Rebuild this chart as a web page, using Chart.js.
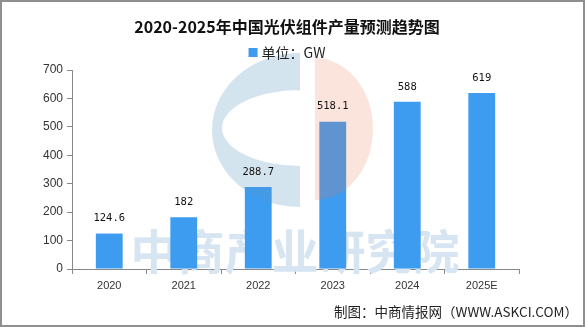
<!DOCTYPE html>
<html>
<head>
<meta charset="utf-8">
<script src="https://cdn.jsdelivr.net/npm/chart.js@4"></script>
<style>
  html, body { margin: 0; padding: 0; background: #fff; }
  #chart { display: block; }
</style>
</head>
<body>
<canvas id="chart" width="585" height="327"></canvas>
<script>
// Module output, GW
const years = ['2020', '2021', '2022', '2023', '2024', '2025E'];
const output = [124.6, 182, 288.7, 518.1, 588, 619];
const yTicks = [0, 100, 200, 300, 400, 500, 600, 700];

const titleText = '2020-2025年中国光伏组件产量预测趋势图';
const unitLabel = '单位：GW';
const sourceText = '制图：中商情报网（WWW.ASKCI.COM）';
const watermarkText = '中商产业研究院';

const barColor = '#3d9bf0';
const cjkFont = "'Noto Sans CJK SC', 'Noto Sans', sans-serif";

// Faint brand mark behind / over the plot
const watermarkPlugin = {
    id: 'watermark',
    beforeDatasetsDraw(chart) {
        const ctx = chart.ctx;
        ctx.save();
        ctx.fillStyle = '#d6e5f1';
        ctx.font = `bold 47px ${cjkFont}`;
        ctx.textAlign = 'center';
        ctx.textBaseline = 'middle';
        ctx.fillText(watermarkText, 295, 251);
        ctx.restore();
    },
    afterDatasetsDraw(chart) {
        const ctx = chart.ctx;
        ctx.save();

        // left "C" in pale blue
        ctx.fillStyle = 'rgba(90, 150, 195, 0.26)';
        ctx.beginPath();
        ctx.ellipse(300, 130, 88, 77, 0, Math.PI / 2, Math.PI * 1.5);
        ctx.closePath();
        ctx.moveTo(300, 128);
        ctx.ellipse(300, 128, 78, 38, 0, Math.PI * 1.5, Math.PI / 2, true);
        ctx.closePath();
        ctx.fill('evenodd');

        // right half in peach
        ctx.fillStyle = 'rgba(235, 120, 80, 0.2)';
        ctx.beginPath();
        ctx.ellipse(315, 129, 58, 71, 0, -Math.PI / 2, Math.PI / 2);
        ctx.closePath();
        ctx.fill();
        ctx.restore();

        // value labels above the bars
        const meta = chart.getDatasetMeta(0);
        ctx.save();
        ctx.fillStyle = '#111';
        ctx.font = "10.5px 'DejaVu Sans Mono', monospace";
        ctx.textAlign = 'center';
        ctx.textBaseline = 'middle';
        meta.data.forEach((bar, i) => {
            ctx.fillText(String(chart.data.datasets[0].data[i]), bar.x, bar.y - 15);
        });
        ctx.restore();
    }
};

// Title, unit key, source line and outer frame
const decorPlugin = {
    id: 'decor',
    afterDraw(chart) {
        const ctx = chart.ctx;
        ctx.save();

        ctx.fillStyle = '#111';
        ctx.font = `bold 16px ${cjkFont}`;
        ctx.textAlign = 'center';
        ctx.textBaseline = 'middle';
        ctx.fillText(titleText, 287, 27);

        const ds = chart.data.datasets[0];
        ctx.font = `14px ${cjkFont}`;
        const w = ctx.measureText(ds.label).width;
        const box = 9;
        const startX = 287 - (box + 4 + w) / 2;
        ctx.fillStyle = ds.backgroundColor;
        ctx.fillRect(startX, 48, box, box);
        ctx.fillStyle = '#222';
        ctx.textAlign = 'left';
        ctx.fillText(ds.label, startX + box + 4, 53);

        ctx.font = `13.5px ${cjkFont}`;
        ctx.textAlign = 'right';
        ctx.fillText(sourceText, 578, 312);

        ctx.strokeStyle = '#8f8f8f';
        ctx.lineWidth = 2;
        ctx.strokeRect(1, 1, 583, 325);
        ctx.restore();
    }
};

new Chart(document.getElementById('chart'), {
    type: 'bar',
    data: {
        labels: years,
        datasets: [{
            label: unitLabel,
            data: output,
            backgroundColor: barColor,
            barPercentage: 0.36,
            categoryPercentage: 1
        }]
    },
    options: {
        responsive: false,
        animation: false,
        layout: { padding: { top: 70, right: 66, bottom: 0, left: 0 } },
        plugins: {
            legend: { display: false },
            title: { display: false },
            tooltip: { enabled: false }
        },
        scales: {
            x: {
                grid: { drawOnChartArea: false, tickLength: 5, color: '#888', offset: true },
                border: { color: '#888' },
                ticks: {
                    color: '#333',
                    padding: 5,
                    font: { family: "'Liberation Sans', Arial, sans-serif", size: 11 }
                },
                afterFit(scale) { scale.height = 58; }
            },
            y: {
                min: yTicks[0],
                max: yTicks[yTicks.length - 1],
                afterBuildTicks(scale) { scale.ticks = yTicks.map(v => ({ value: v })); },
                grid: { drawOnChartArea: false, tickLength: 5, color: '#888' },
                border: { color: '#888' },
                ticks: {
                    color: '#333',
                    padding: 4,
                    font: { family: "'Liberation Sans', Arial, sans-serif", size: 12 }
                },
                afterFit(scale) { scale.width = 72; }
            }
        }
    },
    plugins: [watermarkPlugin, decorPlugin]
});
</script>
</body>
</html>
